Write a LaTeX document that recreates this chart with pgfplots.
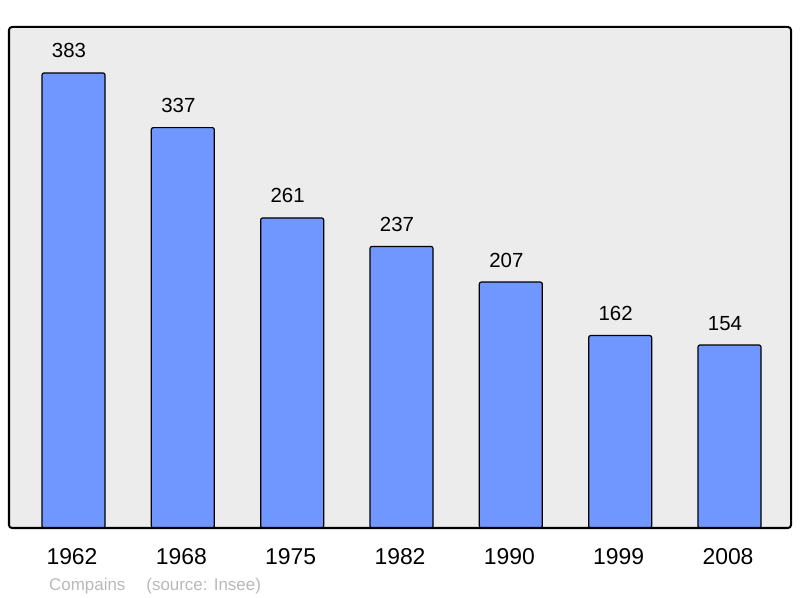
\documentclass[border=0pt]{standalone}
\usepackage{pgfplots}
\pgfplotsset{compat=1.18}
\usepackage{fontspec}
\setmainfont{Liberation Sans}
\definecolor{barblue}{RGB}{112,151,255}
\definecolor{panel}{RGB}{236,236,236}
\definecolor{srcgray}{RGB}{185,185,185}

\begin{document}
\begin{tikzpicture}
\begin{axis}[
    name=ax,
    scale only axis,
    width=782bp, height=501bp,
    xmin=-0.59, xmax=6.5625,
    ymin=0, ymax=421.7,
    axis line style={draw=none},
    axis background/.style={fill=panel, rounded corners=3bp},
    /pgf/number format/assume math mode=true,
    xtick=data,
    xticklabels={1962,1968,1975,1982,1990,1999,2008},
    ytick=\empty,
    major tick length=0pt,
    xticklabel style={font=\fontsize{23}{23}\selectfont, anchor=base, xshift=-1.5bp, yshift=-36bp},
    ybar, bar width=63bp,
    nodes near coords,
    every node near coord/.append style={font=\fontsize{20.5}{20.5}\selectfont, anchor=base, xshift=-4.5bp, yshift=15bp},
    clip=false,
]
\addplot[fill=barblue, draw=black, line width=1.2bp, rounded corners=2bp] coordinates {
    (0,383) (1,337) (2,261) (3,237) (4,207) (5,162) (6,154)
};
\end{axis}
\draw[line width=2bp, rounded corners=3bp] (ax.south west) rectangle (ax.north east);
\node[anchor=base west, text=srcgray, font=\fontsize{17}{17}\selectfont, inner sep=0pt]
    at ([xshift=40bp, yshift=-62bp]ax.south west) {Compains\hspace{21bp}(source: Insee)};
\path[use as bounding box] ([xshift=-9bp, yshift=-70bp]ax.south west) rectangle ([xshift=9bp, yshift=27bp]ax.north east);
\end{tikzpicture}
\end{document}
